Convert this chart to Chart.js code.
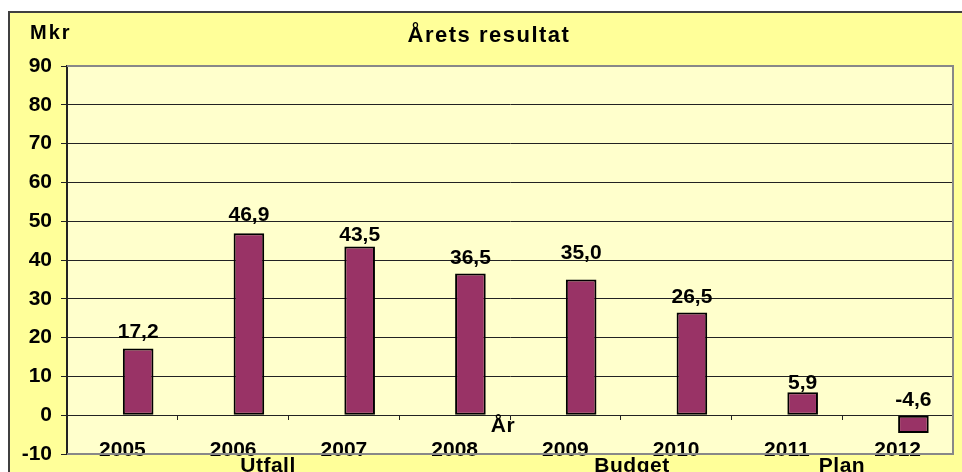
<!DOCTYPE html>
<html>
<head>
<meta charset="utf-8">
<script src="https://cdn.jsdelivr.net/npm/chart.js@4/dist/chart.umd.min.js"></script>
<style>
  html, body { margin: 0; padding: 0; background: #ffffff; }
  canvas { display: block; }
</style>
</head>
<body>
<canvas id="c" width="962" height="472"></canvas>
<script>
const years = ['2005', '2006', '2007', '2008', '2009', '2010', '2011', '2012'];
const resultValues = [17.2, 46.9, 43.5, 36.5, 35.0, 26.5, 5.9, -4.6];
const placeholderValues = [null, null, null, null, null, null, null, null];
const yMin = -10;
const yMax = 90;
const yStep = 10;
const titleText = 'Årets resultat';
const unitText = 'Mkr';
const axisText = 'År';
const groupLabels = ['Utfall', 'Budget', 'Plan'];

const FONT = '"Liberation Sans", Arial, sans-serif';

const decorPlugin = {
  id: 'decor',
  beforeDraw(chart) {
    const ctx = chart.ctx;
    const { width, height, chartArea: a } = chart;
    ctx.save();
    ctx.fillStyle = '#ffffff';
    ctx.fillRect(0, 0, width, height);
    ctx.fillStyle = '#FFFF99';
    ctx.fillRect(9, 12, width - 9, height - 12);
    ctx.strokeStyle = '#404040';
    ctx.lineWidth = 2;
    ctx.beginPath();
    ctx.moveTo(9, height);
    ctx.lineTo(9, 12);
    ctx.lineTo(width, 12);
    ctx.stroke();
    ctx.fillStyle = '#FFFFCC';
    ctx.fillRect(a.left, a.top, a.right - a.left, a.bottom - a.top);
    ctx.restore();
  },
  beforeDatasetsDraw(chart) {
    const ctx = chart.ctx;
    const a = chart.chartArea;
    ctx.save();
    ctx.strokeStyle = '#888888';
    ctx.lineWidth = 2;
    ctx.beginPath();
    ctx.moveTo(a.left, a.top);
    ctx.lineTo(a.right, a.top);
    ctx.lineTo(a.right, a.bottom);
    ctx.lineTo(a.left, a.bottom);
    ctx.stroke();
    ctx.restore();
  },
  afterDatasetsDraw(chart, args, opts) {
    const ctx = chart.ctx;
    const meta = chart.getDatasetMeta(1);
    ctx.save();
    ctx.font = 'bold 21px ' + FONT;
    ctx.fillStyle = '#000';
    ctx.textAlign = 'center';
    ctx.textBaseline = 'alphabetic';
    meta.data.forEach((bar, i) => {
      const v = resultValues[i];
      const top = Math.min(bar.y, bar.base);
      ctx.fillText(v.toFixed(1).replace('.', ','), bar.x, top - opts.gaps[i]);
    });
    ctx.restore();
  },
  afterDraw(chart, args, opts) {
    const ctx = chart.ctx;
    ctx.save();
    ctx.fillStyle = '#000';
    ctx.textBaseline = 'alphabetic';
    ctx.textAlign = 'center';
    ctx.font = 'bold 22px ' + FONT;
    if ('letterSpacing' in ctx) ctx.letterSpacing = '1.5px';
    ctx.fillText(titleText, 489, 42);
    ctx.textAlign = 'left';
    ctx.font = 'bold 20px ' + FONT;
    if ('letterSpacing' in ctx) ctx.letterSpacing = '2px';
    ctx.fillText(unitText, 30, 39);
    if ('letterSpacing' in ctx) ctx.letterSpacing = '0.5px';
    ctx.textAlign = 'center';
    ctx.font = 'bold 21px ' + FONT;
    ctx.fillText(axisText, 503, 432);
    opts.groupX.forEach((x, i) => {
      ctx.fillText(groupLabels[i], x, 472);
    });
    ctx.restore();
  }
};

new Chart(document.getElementById('c'), {
  type: 'bar',
  data: {
    labels: years,
    datasets: [
      {
        label: '',
        data: placeholderValues,
        backgroundColor: '#993366'
      },
      {
        label: titleText,
        data: resultValues,
        backgroundColor: '#993366',
        borderColor: '#000000',
        borderWidth: 2,
        borderSkipped: false
      }
    ]
  },
  options: {
    responsive: false,
    animation: false,
    devicePixelRatio: 1,
    categoryPercentage: 0.57,
    barPercentage: 0.97,
    layout: { padding: { top: 66, right: 9, bottom: 18, left: 0 } },
    plugins: {
      legend: { display: false },
      title: { display: false },
      tooltip: { enabled: false },
      decor: {
        gaps: [10.7, 12.6, 5, 10, 20, 9, 3, 10],
        groupX: [268, 632, 842]
      }
    },
    scales: {
      x: {
        type: 'category',
        position: { y: 0 },
        offset: true,
        grid: {
          offset: true,
          drawOnChartArea: false,
          drawTicks: true,
          tickLength: 4,
          color: '#222222',
          lineWidth: 1
        },
        border: { display: true, color: '#222222', width: 1 },
        ticks: {
          color: '#000000',
          padding: 18,
          maxRotation: 0,
          autoSkip: false,
          font: { family: FONT, size: 21, weight: 'bold' }
        }
      },
      y: {
        type: 'linear',
        position: 'left',
        min: yMin,
        max: yMax,
        afterFit(scale) {
          scale.width = 67;
          scale.paddingTop = 0;
          scale.paddingBottom = 0;
        },
        grid: {
          color: '#222222',
          lineWidth: 1,
          drawTicks: true,
          tickLength: 6
        },
        border: { display: true, color: '#222222', width: 2 },
        ticks: {
          stepSize: yStep,
          color: '#000000',
          padding: 9,
          font: { family: FONT, size: 21, weight: 'bold' }
        }
      }
    }
  },
  plugins: [decorPlugin]
});
</script>
</body>
</html>
